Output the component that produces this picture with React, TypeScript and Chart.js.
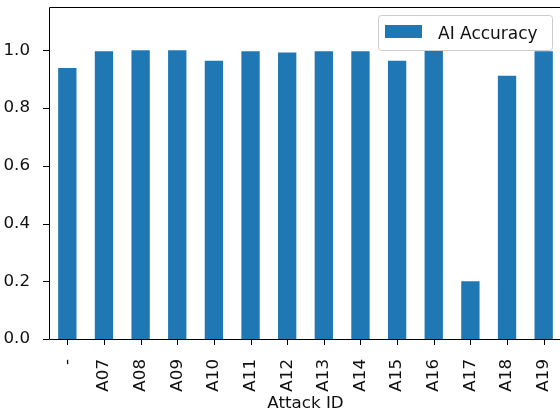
import React, { useEffect, useRef } from "react";
import { Chart, registerables } from "chart.js";

Chart.register(...registerables);

const categories = ["-", "A07", "A08", "A09", "A10", "A11", "A12", "A13", "A14", "A15", "A16", "A17", "A18", "A19"];
const accuracy = [0.939, 0.997, 1.0, 1.0, 0.964, 0.997, 0.992, 0.997, 0.997, 0.964, 1.0, 0.2, 0.912, 0.997];
const seriesLabel = "AI Accuracy";
const xTitle = "Attack ID";
const yTicks = [0, 0.2, 0.4, 0.6, 0.8, 1.0];

const FONT = "DejaVu Sans";
const BLUE = "#1f77b4";
const TXT = "#111111";

const framePlugin = {
  id: "frame",
  afterDraw(chart: any) {
    const { ctx, chartArea } = chart;
    const l = Math.round(chartArea.left) + 0.5;
    const t = Math.round(chartArea.top) + 0.5;
    const b = Math.round(chartArea.bottom) + 0.5;
    const r = Math.round(chartArea.right) + 0.5;
    ctx.save();
    ctx.strokeStyle = "#000";
    ctx.lineWidth = 1;
    ctx.beginPath();
    ctx.moveTo(r, t);
    ctx.lineTo(l, t);
    ctx.lineTo(l, b);
    ctx.lineTo(r, b);
    ctx.stroke();
    ctx.restore();
  },
};

const legendPlugin = {
  id: "mplLegend",
  afterDraw(chart: any) {
    const { ctx } = chart;
    const ds = chart.data.datasets[0];
    const x0 = 378.5, y0 = 15.5, w = 174, h = 35, r = 3;
    ctx.save();
    ctx.beginPath();
    ctx.moveTo(x0 + r, y0);
    ctx.lineTo(x0 + w - r, y0);
    ctx.arcTo(x0 + w, y0, x0 + w, y0 + r, r);
    ctx.lineTo(x0 + w, y0 + h - r);
    ctx.arcTo(x0 + w, y0 + h, x0 + w - r, y0 + h, r);
    ctx.lineTo(x0 + r, y0 + h);
    ctx.arcTo(x0, y0 + h, x0, y0 + h - r, r);
    ctx.lineTo(x0, y0 + r);
    ctx.arcTo(x0, y0, x0 + r, y0, r);
    ctx.closePath();
    ctx.fillStyle = "rgba(255,255,255,0.8)";
    ctx.fill();
    ctx.strokeStyle = "#cccccc";
    ctx.lineWidth = 1;
    ctx.stroke();
    ctx.fillStyle = ds.backgroundColor;
    ctx.fillRect(385, 25, 37, 13);
    ctx.fillStyle = TXT;
    ctx.font = `17px "${FONT}"`;
    ctx.textBaseline = "alphabetic";
    ctx.textAlign = "left";
    ctx.fillText(ds.label, 438, 38.5);
    ctx.restore();
  },
};

export default function App() {
  const ref = useRef<HTMLCanvasElement>(null);
  useEffect(() => {
    if (!ref.current) return;
    const chart = new Chart(ref.current, {
      type: "bar",
      data: {
        labels: categories,
        datasets: [
          {
            label: seriesLabel,
            data: accuracy,
            backgroundColor: BLUE,
            borderWidth: 0,
            barPercentage: 1,
            categoryPercentage: 0.5,
          },
        ],
      },
      options: {
        animation: false,
        responsive: false,
        devicePixelRatio: 1,
        layout: { padding: { top: 7, right: 8, left: 0, bottom: 0 } },
        plugins: { legend: { display: false }, tooltip: { enabled: false } },
        scales: {
          x: {
            type: "category",
            offset: true,
            grid: { display: false },
            border: { display: false },
            ticks: {
              color: TXT,
              font: { family: FONT, size: 16.7 },
              minRotation: 90,
              maxRotation: 90,
              padding: 12,
              autoSkip: false,
            },
            title: {
              display: true,
              text: xTitle,
              color: TXT,
              font: { family: FONT, size: 16.7 },
              padding: { top: 4, bottom: 0 },
            },
            afterFit(scale: any) {
              scale.height = 75;
              scale.paddingLeft = 0;
              scale.paddingRight = 0;
            },
          },
          y: {
            min: 0,
            max: 1.15,
            grid: { display: false },
            border: { display: false },
            afterBuildTicks(scale: any) {
              scale.ticks = yTicks.map((v) => ({ value: v }));
            },
            ticks: {
              color: TXT,
              font: { family: FONT, size: 16.7 },
              padding: 11,
              callback: (v: any) => Number(v).toFixed(1),
            },
            afterFit(scale: any) {
              scale.width = 49;
              scale.paddingTop = 0;
              scale.paddingBottom = 0;
            },
          },
        },
      },
      plugins: [
        framePlugin,
        {
          id: "tickMarks",
          afterDraw(chart: any) {
            const { ctx, chartArea, scales } = chart;
            ctx.save();
            ctx.strokeStyle = "#000";
            ctx.lineWidth = 1;
            ctx.beginPath();
            categories.forEach((_, i) => {
              const x = Math.round(scales.x.getPixelForValue(i)) + 0.5;
              ctx.moveTo(x, chartArea.bottom);
              ctx.lineTo(x, chartArea.bottom + 6);
            });
            yTicks.forEach((v) => {
              const y = Math.round(scales.y.getPixelForValue(v)) + 0.5;
              ctx.moveTo(chartArea.left, y);
              ctx.lineTo(chartArea.left - 6, y);
            });
            ctx.stroke();
            ctx.restore();
          },
        },
        legendPlugin,
      ],
    });
    return () => chart.destroy();
  }, []);
  return (
    <div style={{ position: "fixed", left: 0, top: 0, width: 560, height: 414, overflow: "hidden", background: "#fff" }}>
      <canvas ref={ref} width={570} height={414} style={{ display: "block" }} />
    </div>
  );
}
